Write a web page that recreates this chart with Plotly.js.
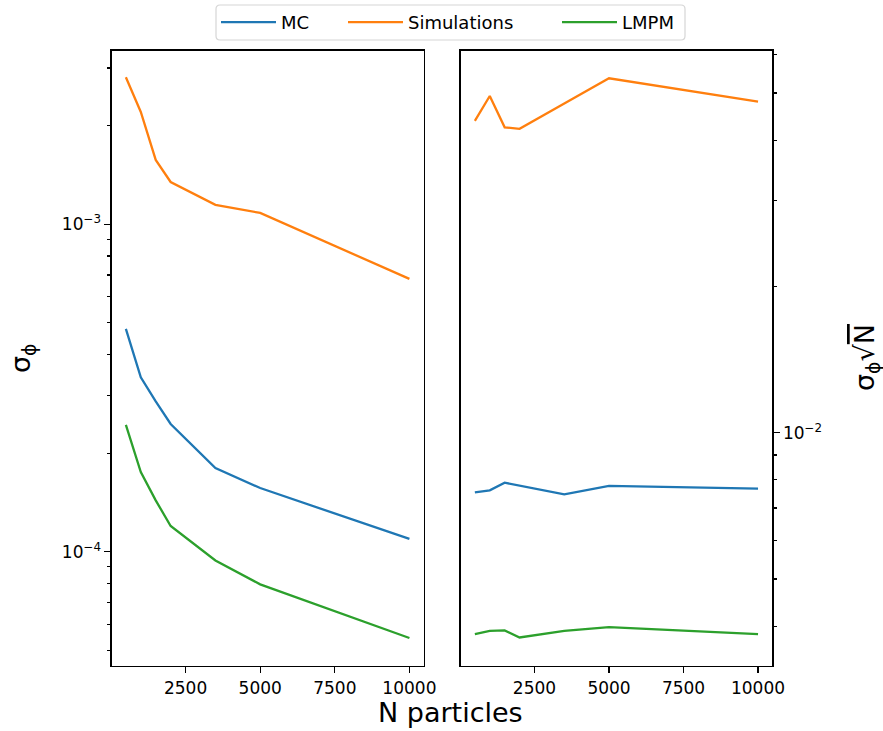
<!DOCTYPE html>
<html>
<head>
<meta charset="utf-8">
<script src="https://cdn.plot.ly/plotly-3.0.1.min.js"></script>
<style>html,body{margin:0;padding:0;background:#fff;}#chart{width:883px;height:731px;}</style>
</head>
<body>
<div id="chart"></div>
<script>
// Data
const N = [500, 1000, 1500, 2000, 3500, 5000, 10000];
const seriesNames = ['MC', 'Simulations', 'LMPM'];
const seriesColors = ['#1f77b4', '#ff7f0e', '#2ca02c'];
// left panel: sigma_phi
const mcSigma   = [4.79e-4, 3.41e-4, 2.88e-4, 2.455e-4, 1.80e-4, 1.565e-4, 1.094e-4];
const simSigma  = [2.81e-3, 2.203e-3, 1.572e-3, 1.346e-3, 1.146e-3, 1.083e-3, 6.81e-4];
const lmpmSigma = [2.44e-4, 1.75e-4, 1.435e-4, 1.198e-4, 9.4e-5, 7.95e-5, 5.45e-5];
// right panel: sigma_phi * sqrt(N)
const mcScaled   = [0.00754, 0.00761, 0.00789, 0.00779, 0.00747, 0.00777, 0.00767];
const simScaled  = [0.0438, 0.0493, 0.0425, 0.0422, 0.0476, 0.0536, 0.0480];
const lmpmScaled = [0.00385, 0.00391, 0.00392, 0.00379, 0.00391, 0.00398, 0.00385];
// tick labels
const xTicks = [2500, 5000, 7500, 10000];
const xTickText = ['2500', '5000', '7500', '10000'];
const leftMajor = [1e-4, 1e-3];
const leftMajorText = ['10<sup>−4</sup>', '10<sup>−3</sup>'];
const leftMinor = [5e-5, 6e-5, 7e-5, 8e-5, 9e-5, 2e-4, 3e-4, 4e-4, 5e-4, 6e-4, 7e-4, 8e-4, 9e-4, 2e-3, 3e-3];
const rightMajor = [1e-2];
const rightMajorText = ['10<sup>−2</sup>'];
const rightMinor = [4e-3, 5e-3, 6e-3, 7e-3, 8e-3, 9e-3, 2e-2, 3e-2, 4e-2, 5e-2, 6e-2];

const leftSets = [mcSigma, simSigma, lmpmSigma];
const rightSets = [mcScaled, simScaled, lmpmScaled];

const W = 883, H = 731;
const legendIds = ['legend', 'legend2', 'legend3'];
const legendLineStart = [222, 349, 563];   // px positions of the legend entries
const traces = [];
leftSets.forEach((ys, i) => traces.push({
  x: N, y: ys, type: 'scatter', mode: 'lines', name: seriesNames[i],
  line: {color: seriesColors[i], width: 2.3}, xaxis: 'x', yaxis: 'y',
  legendgroup: seriesNames[i], showlegend: true, legend: legendIds[i]
}));
rightSets.forEach((ys, i) => traces.push({
  x: N, y: ys, type: 'scatter', mode: 'lines', name: seriesNames[i],
  line: {color: seriesColors[i], width: 2.3}, xaxis: 'x2', yaxis: 'y2',
  legendgroup: seriesNames[i], showlegend: false, legend: legendIds[i]
}));

const tickFont = {family: 'DejaVu Sans', size: 17, color: '#000'};
const axisCommon = {
  showline: true, mirror: true, linecolor: '#000', linewidth: 1.3,
  ticks: 'outside', ticklen: 6, tickwidth: 1.3, tickcolor: '#000',
  showgrid: false, zeroline: false, tickfont: tickFont
};
const xCommon = Object.assign({}, axisCommon, {
  range: [25, 10475], tickmode: 'array', tickvals: xTicks, ticktext: xTickText
});
const minorCommon = {ticks: 'outside', ticklen: 3.5, tickwidth: 1.1, tickcolor: '#000', showgrid: false};

const panelTop = 50.7, panelBottom = 666;
const yDom = [(H - panelBottom) / H, (H - panelTop) / H];

function px(x) { return x / W; }
function py(y) { return 1 - y / H; }
// rounded legend frame
const bx0 = 216, bx1 = 685, by0 = 5, by1 = 40, rr = 4;
const framePath = [
  'M', px(bx0 + rr), py(by0),
  'L', px(bx1 - rr), py(by0), 'Q', px(bx1), py(by0), px(bx1), py(by0 + rr),
  'L', px(bx1), py(by1 - rr), 'Q', px(bx1), py(by1), px(bx1 - rr), py(by1),
  'L', px(bx0 + rr), py(by1), 'Q', px(bx0), py(by1), px(bx0), py(by1 - rr),
  'L', px(bx0), py(by0 + rr), 'Q', px(bx0), py(by0), px(bx0 + rr), py(by0), 'Z'
].join(' ');

const legendFont = {family: 'DejaVu Sans', size: 18, color: '#000'};
const layout = {
  width: W, height: H,
  margin: {l: 0, r: 0, t: 0, b: 0},
  paper_bgcolor: '#fff', plot_bgcolor: '#fff',
  font: {family: 'DejaVu Sans', color: '#000'},
  showlegend: true,
  xaxis: Object.assign({}, xCommon, {domain: [111.7 / W, 423.6 / W], anchor: 'y'}),
  xaxis2: Object.assign({}, xCommon, {domain: [460.7 / W, 772.2 / W], anchor: 'y2'}),
  yaxis: Object.assign({}, axisCommon, {
    type: 'log', range: [-4.349, -2.470], domain: yDom, anchor: 'x',
    tickmode: 'array', tickvals: leftMajor, ticktext: leftMajorText,
    minor: Object.assign({}, minorCommon, {tickmode: 'array', tickvals: leftMinor})
  }),
  yaxis2: Object.assign({}, axisCommon, {
    type: 'log', range: [-2.480, -1.214], domain: yDom, anchor: 'x2', side: 'right',
    tickmode: 'array', tickvals: rightMajor, ticktext: rightMajorText,
    minor: Object.assign({}, minorCommon, {tickmode: 'array', tickvals: rightMinor})
  }),
  shapes: [
    {type: 'path', xref: 'paper', yref: 'paper', path: framePath,
     line: {color: '#d6d6d6', width: 1.2}, fillcolor: 'rgba(255,255,255,0.8)', layer: 'below'}
  ],
  annotations: [
    {text: 'N particles', xref: 'paper', yref: 'paper', x: 450 / W, y: (H - 712) / H,
     xanchor: 'center', yanchor: 'middle', showarrow: false,
     font: {family: 'DejaVu Sans', size: 27, color: '#000'}},
    {text: 'σ<sub>ϕ</sub>', xref: 'paper', yref: 'paper', x: 22 / W, y: (H - 358) / H,
     xanchor: 'center', yanchor: 'middle', textangle: -90, showarrow: false,
     font: {family: 'DejaVu Sans', size: 27, color: '#000'}},
    {text: 'σ<sub>ϕ</sub>√<span style="text-decoration:overline">N</span>', xref: 'paper', yref: 'paper',
     x: 866 / W, y: (H - 358) / H,
     xanchor: 'center', yanchor: 'middle', textangle: -90, showarrow: false,
     font: {family: 'DejaVu Sans', size: 27, color: '#000'}}
  ]
};
legendIds.forEach((id, i) => {
  layout[id] = {
    orientation: 'h', x: (legendLineStart[i] - 6) / W, xanchor: 'left',
    y: 1 - 4 / H, yanchor: 'top', borderwidth: 0, bgcolor: 'rgba(0,0,0,0)',
    font: legendFont, itemwidth: 55
  };
});

Plotly.newPlot('chart', traces, layout, {displayModeBar: false, staticPlot: true});
</script>
</body>
</html>
